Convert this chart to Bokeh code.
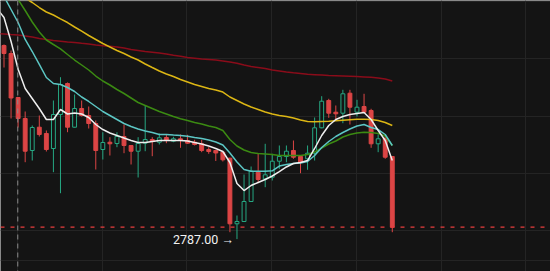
from bokeh.plotting import figure
from bokeh.models import Range1d, FixedTicker, Span, ColumnDataSource
from bokeh.core.properties import value
from bokeh.embed import file_html
from bokeh.resources import INLINE

# ---- candle data (price) ----
opens = [2854.63, 2851.83, 2836.46, 2829.13, 2817.95, 2826.09, 2823.89, 2818.65, 2830.52, 2841.36,
         2826.09, 2832.62, 2830.18, 2827.38, 2818.30, 2820.85, 2820.39, 2822.84, 2819.70, 2817.70,
         2820.50, 2821.79, 2820.85, 2822.49, 2821.20, 2822.04, 2821.44, 2820.85, 2820.29, 2818.30,
         2817.95, 2817.36, 2815.26, 2792.34, 2793.14, 2800.13, 2810.37, 2808.06, 2808.62, 2814.21,
         2815.85, 2817.95, 2815.85, 2815.05, 2817.01, 2825.88, 2835.42, 2831.33, 2830.98, 2837.97,
         2831.33, 2833.32, 2831.92, 2820.29, 2822.25, 2815.85]
highs = [2855.00, 2852.88, 2836.46, 2831.57, 2826.68, 2830.18, 2824.94, 2835.42, 2843.56, 2841.71,
         2837.51, 2835.42, 2833.32, 2828.43, 2824.34, 2822.60, 2824.34, 2827.03, 2819.87, 2822.60,
         2833.67, 2822.60, 2823.89, 2823.54, 2822.74, 2823.54, 2823.43, 2821.69, 2821.69, 2819.10,
         2818.19, 2817.53, 2815.44, 2795.24, 2809.56, 2812.36, 2816.80, 2820.29, 2816.80, 2819.70,
         2819.70, 2821.44, 2816.20, 2819.70, 2829.48, 2836.92, 2836.01, 2833.67, 2839.15, 2839.15,
         2835.66, 2837.76, 2832.52, 2823.54, 2823.19, 2816.03]
lows = [2846.94, 2829.13, 2825.98, 2813.86, 2814.45, 2822.84, 2817.60, 2810.37, 2803.03, 2824.34,
        2825.98, 2829.83, 2825.63, 2811.31, 2814.80, 2816.20, 2819.10, 2817.01, 2813.06, 2808.52,
        2817.70, 2815.96, 2820.05, 2820.50, 2820.85, 2818.89, 2820.29, 2819.70, 2817.36, 2816.80,
        2814.28, 2814.11, 2789.41, 2787.00, 2792.97, 2799.96, 2806.87, 2805.13, 2807.47, 2811.55,
        2813.86, 2815.05, 2810.02, 2811.21, 2814.45, 2825.70, 2829.37, 2828.43, 2827.49, 2827.03,
        2829.83, 2831.15, 2818.89, 2817.36, 2815.05, 2789.41]
closes = [2851.83, 2836.29, 2829.13, 2817.70, 2825.98, 2823.54, 2818.30, 2830.52, 2841.01, 2826.09,
          2832.62, 2830.18, 2827.38, 2817.95, 2820.74, 2820.29, 2822.84, 2819.70, 2817.70, 2820.39,
          2821.79, 2821.09, 2822.39, 2821.44, 2822.04, 2821.44, 2820.50, 2820.05, 2817.95, 2817.60,
          2817.08, 2814.70, 2792.34, 2793.14, 2800.13, 2810.72, 2807.82, 2809.46, 2814.21, 2815.85,
          2817.70, 2815.61, 2813.86, 2817.01, 2825.88, 2835.17, 2830.98, 2830.77, 2837.76, 2833.08,
          2833.08, 2831.33, 2820.29, 2822.04, 2815.61, 2791.15]

# ---- moving averages (bar -1 .. 55) ----
ma_white = [2867.56, 2864.41, 2856.03, 2846.32, 2839.61, 2836.11, 2832.62, 2828.78, 2828.78, 2832.27, 2830.70,
            2831.05, 2830.70, 2829.48, 2827.03, 2825.28, 2824.06, 2823.19, 2822.32, 2821.44, 2820.74,
            2820.74, 2821.09, 2821.44, 2821.44, 2821.44, 2821.44, 2821.27, 2820.74, 2820.22, 2819.52,
            2818.65, 2817.60, 2813.76, 2806.42, 2803.97, 2805.72, 2806.77, 2807.82, 2809.04, 2810.61,
            2812.19, 2813.41, 2813.76, 2814.45, 2818.65, 2823.19, 2826.68, 2828.78, 2829.83, 2830.52,
            2830.87, 2831.22, 2828.78, 2824.94, 2821.44, 2814.45]
ma_cyan = [2876.64, 2871.75, 2867.21, 2862.66, 2856.73, 2852.53, 2848.00, 2843.45, 2841.36, 2841.01, 2839.96,
           2838.56, 2836.64, 2835.07, 2833.32, 2831.57, 2830.18, 2828.78, 2827.38, 2826.33, 2825.46,
           2824.76, 2824.24, 2823.54, 2823.54, 2823.36, 2823.19, 2822.94, 2822.49, 2822.14, 2821.62,
           2820.92, 2819.87, 2817.08, 2813.93, 2811.31, 2810.72, 2810.72, 2810.72, 2810.86, 2812.53,
           2813.06, 2813.41, 2813.58, 2814.11, 2816.20, 2819.00, 2821.09, 2822.84, 2824.24, 2825.46,
           2826.51, 2827.03, 2825.98, 2825.28, 2823.54, 2819.70]
ma_green = [2882.58, 2878.38, 2874.54, 2870.70, 2866.86, 2862.84, 2859.35, 2856.55, 2854.98, 2853.48, 2851.49,
            2849.56, 2847.82, 2846.07, 2843.97, 2842.23, 2840.83, 2839.26, 2837.86, 2836.29, 2834.72,
            2833.67, 2832.62, 2831.57, 2830.70, 2829.83, 2829.02, 2828.43, 2827.73, 2827.21, 2826.51,
            2825.98, 2824.94, 2821.79, 2819.52, 2818.12, 2817.25, 2816.90, 2816.73, 2816.55, 2816.20,
            2816.20, 2816.20, 2816.20, 2816.55, 2817.43, 2818.75, 2820.22, 2821.27, 2822.67, 2823.54,
            2824.06, 2824.34, 2824.24, 2823.89, 2823.02, 2819.70]
ma_yellow = [2878.04, 2876.46, 2874.72, 2872.97, 2871.22, 2869.65, 2867.90, 2866.33, 2865.28, 2863.96, 2862.66,
             2861.09, 2859.62, 2858.12, 2856.73, 2855.33, 2854.11, 2852.88, 2851.83, 2850.61, 2849.56,
             2848.17, 2846.94, 2845.72, 2844.67, 2843.80, 2842.75, 2841.88, 2841.01, 2840.31, 2839.61,
             2839.08, 2838.38, 2836.64, 2835.42, 2834.19, 2833.15, 2832.27, 2831.40, 2830.70, 2830.18,
             2829.83, 2829.30, 2828.60, 2828.08, 2827.97, 2828.08, 2828.18, 2828.36, 2828.53, 2828.71,
             2828.85, 2828.85, 2828.78, 2828.43, 2827.73, 2826.68]
ma_red = [2858.82, 2858.65, 2858.47, 2858.30, 2857.95, 2857.60, 2857.07, 2856.73, 2856.38, 2856.13, 2855.85,
          2855.68, 2855.40, 2855.15, 2854.80, 2854.56, 2854.35, 2854.11, 2853.76, 2853.23, 2852.88,
          2852.53, 2852.25, 2851.97, 2851.66, 2851.21, 2850.86, 2850.44, 2850.19, 2849.91, 2849.74,
          2849.56, 2849.25, 2848.87, 2848.41, 2847.82, 2847.29, 2846.94, 2846.59, 2846.07, 2845.72,
          2845.37, 2845.09, 2844.85, 2844.57, 2844.43, 2844.29, 2844.15, 2844.08, 2844.01, 2843.90,
          2843.80, 2843.66, 2843.52, 2843.31, 2842.92, 2842.22]

price_grid = [2870, 2850, 2830, 2810, 2790, 2779.5]
time_grid = [1.9, 13.9, 25.9, 37.9, 49.9, 61.9, 73.9]
crosshair_bar = 1.95
low_label = "2787.00 →"

BG = "#141414"
UP = "#26a883"
DOWN = "#dc4545"

n = len(opens)
idx = list(range(n))
ma_idx = list(range(-1, n))

up = [i for i in idx if closes[i] >= opens[i]]
dn = [i for i in idx if closes[i] < opens[i]]

p = figure(width=550, height=271, output_backend="svg", toolbar_location=None,
           x_range=Range1d(-0.496, 77.41), y_range=Range1d(2775.68, 2870.35),
           x_axis_location=None, y_axis_location=None, min_border=0,
           background_fill_color=BG, border_fill_color=BG, outline_line_color=None)

p.xgrid.ticker = FixedTicker(ticks=time_grid)
p.ygrid.ticker = FixedTicker(ticks=price_grid)
p.xgrid.grid_line_color = "#242424"
p.ygrid.grid_line_color = "#242424"

# crosshair
p.add_layout(Span(location=crosshair_bar, dimension="height", line_color="#8a8a8a",
                  line_dash="5 4", line_width=1))

def src(ids):
    return ColumnDataSource(dict(
        x=[i for i in ids],
        h=[highs[i] for i in ids], l=[lows[i] for i in ids],
        top=[max(opens[i], closes[i]) for i in ids],
        bot=[min(opens[i], closes[i]) for i in ids],
    ))

su, sd = src(up), src(dn)
p.segment(x0="x", y0="l", x1="x", y1="h", source=su, line_color=UP, line_width=1)
p.segment(x0="x", y0="l", x1="x", y1="h", source=sd, line_color=DOWN, line_width=1)
p.vbar(x="x", top="top", bottom="bot", width=0.55, source=su, fill_color=BG, line_color=UP, line_width=1)
p.vbar(x="x", top="top", bottom="bot", width=0.55, source=sd, fill_color=DOWN, line_color=DOWN, line_width=1)

# moving averages
for vals, col in [(ma_red, "#8a0c1a"), (ma_yellow, "#dcb614"), (ma_green, "#3b8a12"),
                  (ma_cyan, "#5cc6c4"), (ma_white, "#eeeeee")]:
    p.line(ma_idx, vals, line_color=col, line_width=1.5)

# last price line
p.add_layout(Span(location=closes[-1], dimension="width", line_color="#e83c3c",
                  line_dash="4 6", line_width=1.3))

# low label
lo_i = min(idx, key=lambda i: lows[i])
p.text(x=[lo_i], y=[lows[lo_i]], text=[low_label], text_align="right", text_baseline="middle",
       x_offset=-3, text_color="#f2f2f2", text_font=value("Roboto"), text_font_size="12.5px")

open("out.html", "w").write(file_html(p, INLINE))
